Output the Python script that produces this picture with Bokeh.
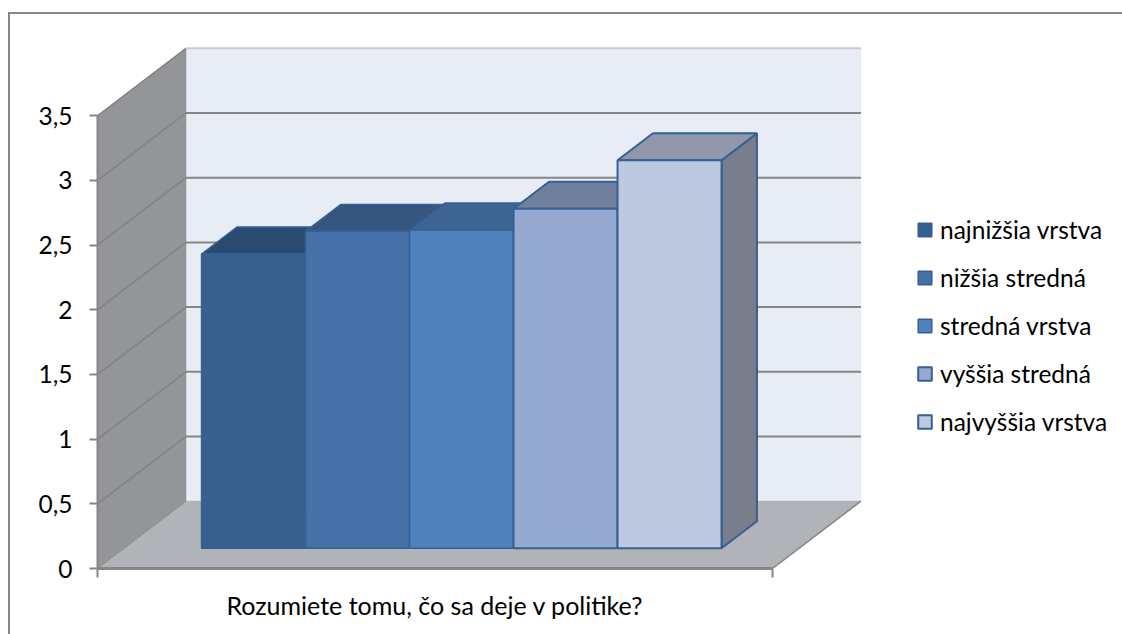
from bokeh.plotting import figure
from bokeh.embed import file_html
from bokeh.resources import INLINE
from bokeh.models import (Range1d, FixedTicker, Legend, LegendItem)

# ---- data ----
categories = ["najnižšia vrstva", "nižšia stredná", "stredná vrstva", "vyššia stredná", "najvyššia vrstva"]
values = [2.275, 2.45, 2.46, 2.625, 3.0]
question = "Rozumiete tomu, čo sa deje v politike?"
y_ticks = [0, 0.5, 1, 1.5, 2, 2.5, 3, 3.5]
y_tick_labels = ["0", "0,5", "1", "1,5", "2", "2,5", "3", "3,5"]
front_colors = ["#38608F", "#4571A8", "#4F81BD", "#95A9D1", "#BCC9E1"]
top_colors = ["#2B4A70", "#365680", "#3D6493", "#6F7F9D", "#9198AB"]
side_colors = ["#2B4A70", "#365680", "#3D6493", "#6F7F9D", "#787E8C"]

# ---- layout ----
W, H = 1122, 634
PX_X = 675.0      # px per category-axis unit
PX_Y = 129.36     # px per value unit
LEFT, BOTTOM = 97, 66
DX = 88.5 / PX_X  # depth vector in data units
DY = 67.4 / PX_Y
FONT = "Lato"
FS = "24.5px"
EDGE = "#868686"

p = figure(width=W, height=H, output_backend="svg", toolbar_location=None,
           x_range=Range1d(0, (W - LEFT) / PX_X), y_range=Range1d(0, (H - BOTTOM) / PX_Y),
           min_border_left=LEFT, min_border_bottom=BOTTOM, min_border_top=0, min_border_right=0,
           background_fill_color=None, border_fill_color=None, outline_line_color=None)
p.grid.visible = False
# chart-area border: only its top and left edges fall inside the picture
p.styles = {
    "background-color": "white",
    "background-image": f"linear-gradient({EDGE},{EDGE}), linear-gradient({EDGE},{EDGE})",
    "background-size": "2px 100%, 100% 2px",
    "background-position": "8px 12px, 8px 12px",
    "background-repeat": "no-repeat",
}


def pr(x, v, d):
    return x + d * DX, v + d * DY


def face(pts, fill, line=None, lw=0):
    xs, ys = zip(*[pr(*q) for q in pts])
    return p.patch(list(xs), list(ys), fill_color=fill, line_color=line if line else fill,
                   line_width=lw if line else 0.5)


top_v = y_ticks[-1]
# walls and floor
face([(0, 0, 1), (1, 0, 1), (1, top_v, 1), (0, top_v, 1)], "#E8ECF5")
face([(0, 0, 0), (0, 0, 1), (0, top_v, 1), (0, top_v, 0)], "#939598")
face([(0, 0, 0), (1, 0, 0), (1, 0, 1), (0, 0, 1)], "#B0B3B7")

# gridlines
for v in y_ticks:
    if v == 0:
        continue
    c = "#C9CBD0" if v == top_v else EDGE
    a = pr(0, v, 0); b = pr(0, v, 1); e = pr(1, v, 1)
    p.line([a[0], b[0]], [a[1], b[1]], line_color="#808285", line_width=1.5)
    p.line([b[0], e[0]], [b[1], e[1]], line_color=c, line_width=2)
a = pr(1, 0, 0); b = pr(1, 0, 1)
p.line([a[0], b[0]], [a[1], b[1]], line_color=EDGE, line_width=1.5)
a = pr(0, 0, 0); b = pr(0, 0, 1)
p.line([a[0], b[0]], [a[1], b[1]], line_color=EDGE, line_width=1)

# bars
n = len(values)
bw = 104.0 / PX_X
gap = (1 - n * bw) / 2
d0, d1 = 0.3, 0.7
fronts = []
for i, v in enumerate(values):
    x0 = gap + i * bw
    x1 = x0 + bw
    lc = "#376092"
    lw = 2 if i >= 3 else 1.5
    face([(x1, 0, d0), (x1, 0, d1), (x1, v, d1), (x1, v, d0)], side_colors[i], lc, lw)
    face([(x0, v, d0), (x1, v, d0), (x1, v, d1), (x0, v, d1)], top_colors[i], lc, lw)
    fronts.append(face([(x0, 0, d0), (x1, 0, d0), (x1, v, d0), (x0, v, d0)], front_colors[i], lc, lw))

# axes
ya = p.yaxis[0]
ya.bounds = (0, top_v)
ya.ticker = FixedTicker(ticks=y_ticks)
ya.major_label_overrides = dict(zip(y_ticks, y_tick_labels))
ya.major_label_text_font = FONT
ya.major_label_text_font_size = FS
ya.major_label_text_color = "#000000"
ya.major_label_standoff = 17
ya.major_tick_in = 0
ya.major_tick_out = 8
ya.major_tick_line_color = EDGE
ya.major_tick_line_width = 2
ya.minor_tick_line_color = None
ya.axis_line_color = EDGE
ya.axis_line_width = 2

xa = p.xaxis[0]
xa.bounds = (0, 1)
xa.ticker = FixedTicker(ticks=[0.5], minor_ticks=[0, 1])
xa.major_label_overrides = {0.5: question}
xa.major_label_text_font = FONT
xa.major_label_text_font_size = "25px"
xa.major_label_text_color = "#000000"
xa.major_label_standoff = 12
xa.major_tick_in = 0
xa.major_tick_out = 0
xa.minor_tick_in = 0
xa.minor_tick_out = 9
xa.minor_tick_line_color = EDGE
xa.minor_tick_line_width = 2
xa.axis_line_color = EDGE
xa.axis_line_width = 3

# legend
legend = Legend(items=[LegendItem(label=c, renderers=[r]) for c, r in zip(categories, fronts)],
                location=(819, 132), orientation="vertical",
                background_fill_alpha=0, border_line_color=None,
                glyph_width=17, glyph_height=17, label_standoff=7, spacing=19,
                padding=0, margin=0, label_height=22,
                label_text_font=FONT, label_text_font_size=FS, label_text_color="#000000")
p.add_layout(legend)

open("out.html", "w").write(file_html(p, INLINE))
